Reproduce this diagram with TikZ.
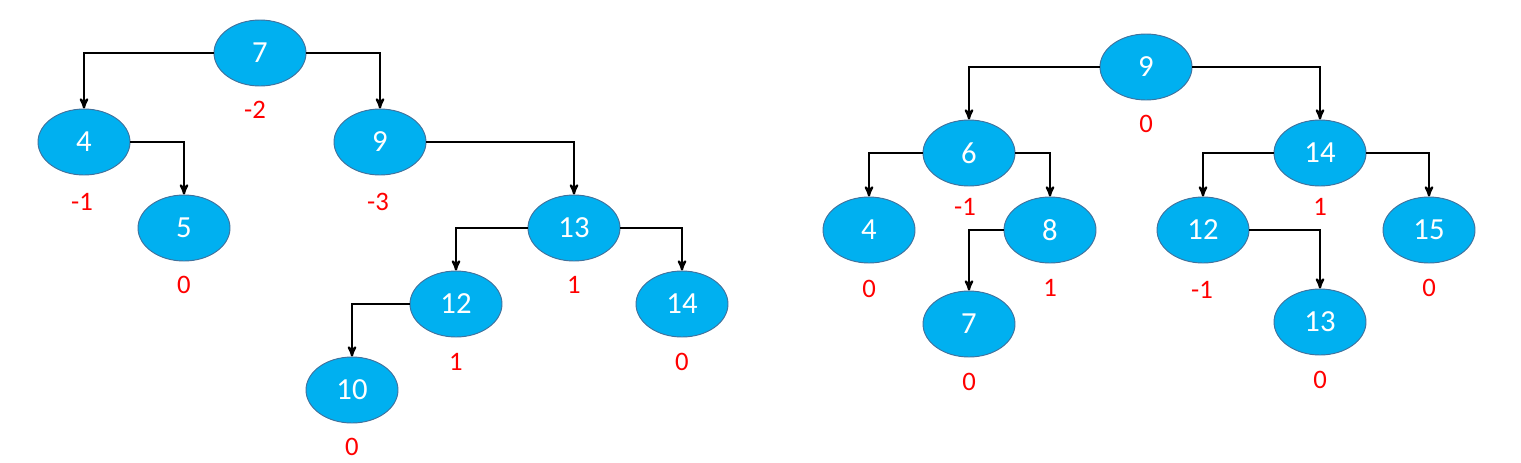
\documentclass[tikz,border=0pt]{standalone}
\usepackage{fontspec}
\setmainfont{Carlito}
\usepackage{tikz}
\usetikzlibrary{arrows,shapes.geometric}

\definecolor{keyblue}{RGB}{0,176,240}
\definecolor{rimblue}{RGB}{65,113,156}

\begin{document}
\begin{tikzpicture}[->,>=stealth',x=0.75pt,y=-0.75pt,line width=1.6pt]
	\tikzstyle{key}=[ellipse,fill=keyblue,draw=rimblue,line width=0.7pt,minimum width=69pt,minimum height=49.5pt,inner sep=0pt,text=white,font=\fontsize{23}{27}\selectfont]
	\tikzstyle{bf}=[text=red,inner sep=0pt,font=\fontsize{20}{24}\selectfont]
	\tikzstyle{elbow}=[to path={-| (\tikztotarget)}]
	\useasboundingbox (0,0) rectangle (1521,462);

	% left tree
	\node[key] (l7)  at (260,53)  {7};
	\node[key] (l4)  at (84,142)  {4};
	\node[key] (l9)  at (380,142) {9};
	\node[key] (l5)  at (184,228) {5};
	\node[key] (l13) at (574,228) {13};
	\node[key] (l12) at (456,304) {12};
	\node[key] (l14) at (682,304) {14};
	\node[key] (l10) at (352,390) {10};

	\node[bf] (b7)  at (255,110) {-2};
	\node[bf] (b4)  at (82,202)  {-1};
	\node[bf] (b9)  at (378,202) {-3};
	\node[bf] (b5)  at (184,285) {0};
	\node[bf] (b13) at (574,285) {1};
	\node[bf] (b12) at (456,362) {1};
	\node[bf] (b14) at (682,362) {0};
	\node[bf] (b10) at (352,447) {0};

	\path (l7)  edge [elbow] (l4)
	      (l7)  edge [elbow] (l9)
	      (l4)  edge [elbow] (l5)
	      (l9)  edge [elbow] (l13)
	      (l13) edge [elbow] (l12)
	      (l13) edge [elbow] (l14)
	      (l12) edge [elbow] (l10);

	% right tree
	\node[key] (r9)  at (1146,67)  {9};
	\node[key] (r6)  at (969,153)  {6};
	\node[key] (r14) at (1320,153) {14};
	\node[key] (r4)  at (869,230)  {4};
	\node[key] (r8)  at (1050,230) {8};
	\node[key] (r12) at (1203,230) {12};
	\node[key] (r15) at (1429,230) {15};
	\node[key] (r7)  at (969,324)  {7};
	\node[key] (r13) at (1320,322) {13};

	\node[bf] (c9)  at (1146,124) {0};
	\node[bf] (c6)  at (965,207)  {-1};
	\node[bf] (c14) at (1320,207) {1};
	\node[bf] (c4)  at (869,289)  {0};
	\node[bf] (c8)  at (1050,288) {1};
	\node[bf] (c12) at (1202,290) {-1};
	\node[bf] (c15) at (1429,288) {0};
	\node[bf] (c7)  at (969,382)  {0};
	\node[bf] (c13) at (1320,380) {0};

	\path (r9)  edge [elbow] (r6)
	      (r9)  edge [elbow] (r14)
	      (r6)  edge [elbow] (r4)
	      (r6)  edge [elbow] (r8)
	      (r8)  edge [elbow] (r7)
	      (r14) edge [elbow] (r12)
	      (r14) edge [elbow] (r15)
	      (r12) edge [elbow] (r13);
\end{tikzpicture}
\end{document}
